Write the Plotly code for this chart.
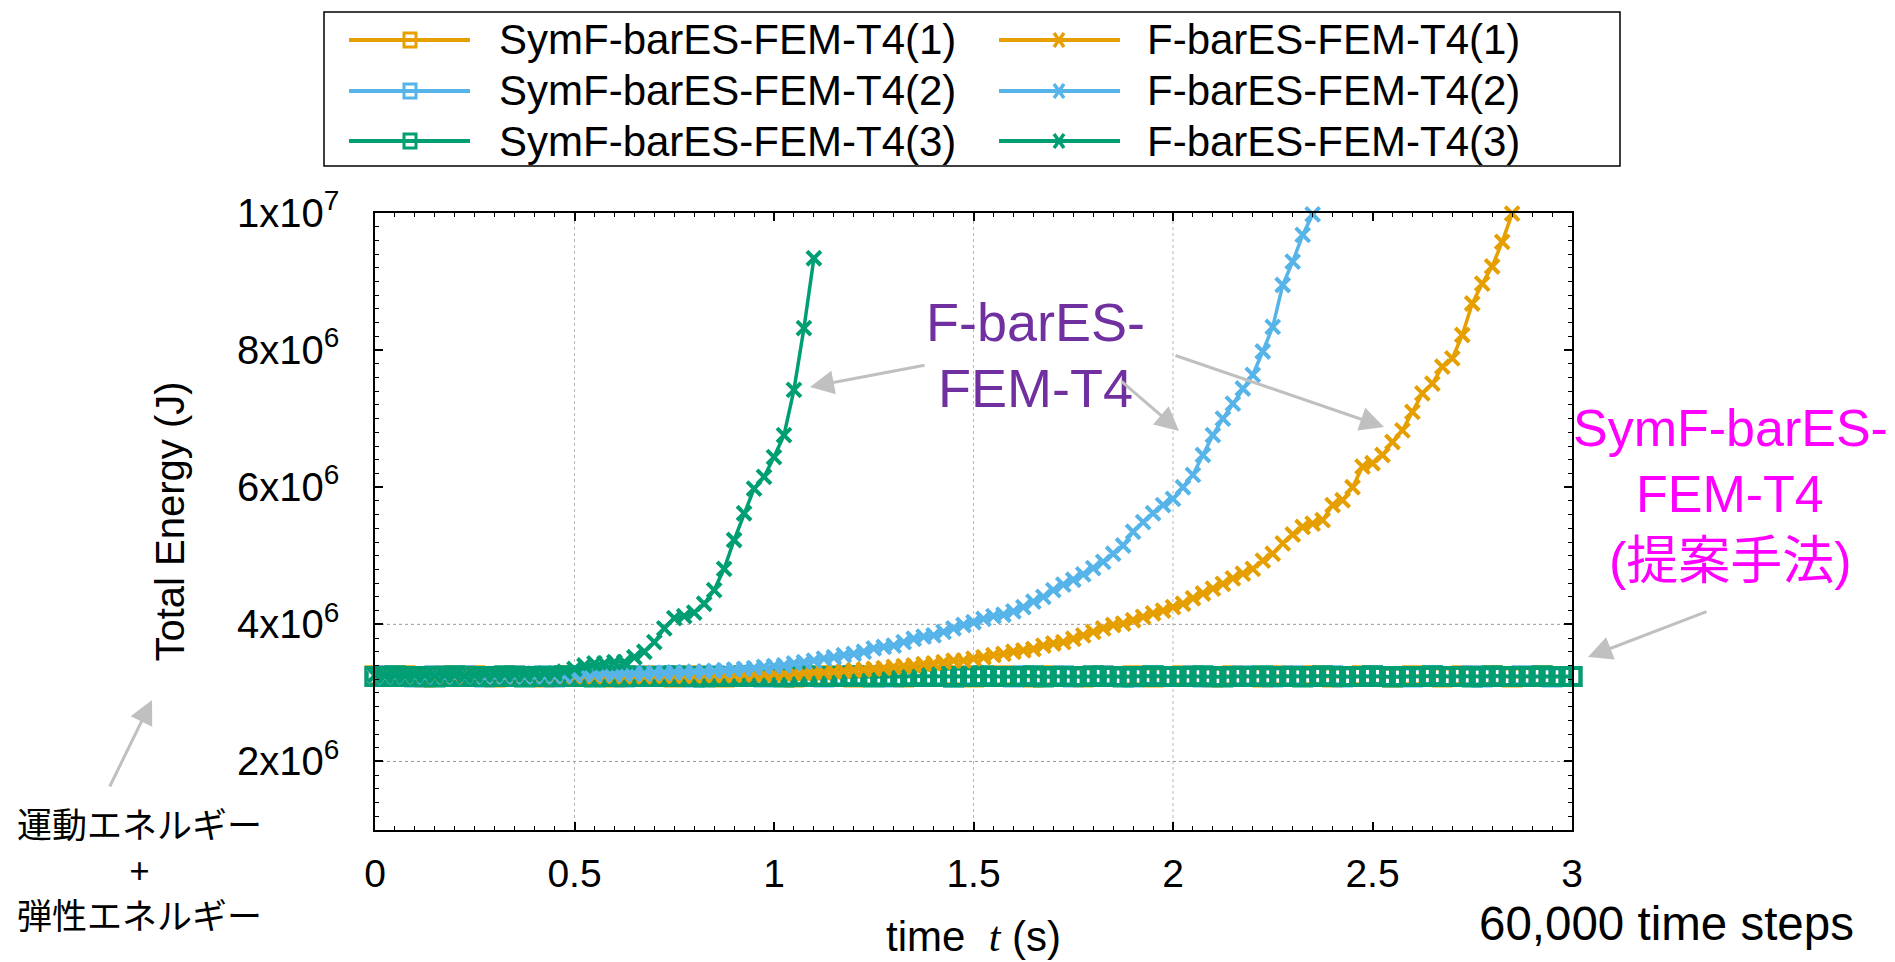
import plotly.graph_objects as go

# ---------------- data (energy in units of 1e6 J) ----------------
T_STEP = 0.025  # output interval (s)

SYM1 = [3.25,3.24,3.24,3.25,3.24,3.23,3.24,3.25,3.24,3.24,
        3.25,3.24,3.23,3.24,3.25,3.24,3.24,3.23,3.24,3.25,
        3.24,3.24,3.25,3.24,3.23,3.24,3.24,3.25,3.24,3.24,
        3.23,3.24,3.25,3.24,3.24,3.23,3.24,3.25,3.24,3.24,
        3.25,3.24,3.23,3.24,3.24,3.25,3.24,3.24,3.23,3.24,
        3.25,3.24,3.24,3.23,3.24,3.25,3.24,3.24,3.25,3.24,
        3.23,3.24,3.24,3.25,3.24,3.24,3.23,3.24,3.25,3.24,
        3.24,3.23,3.24,3.25,3.24,3.24,3.25,3.24,3.23,3.24,
        3.24,3.25,3.24,3.24,3.23,3.24,3.25,3.24,3.24,3.23,
        3.24,3.25,3.24,3.24,3.25,3.24,3.23,3.24,3.24,3.25,
        3.24,3.24,3.23,3.24,3.25,3.24,3.24,3.23,3.24,3.25,
        3.24,3.24,3.25,3.24,3.23,3.24,3.24,3.25,3.24,3.24,
        3.24]
SYM2 = [3.24,3.25,3.24,3.24,3.23,3.24,3.25,3.24,3.24,3.25,
        3.24,3.23,3.24,3.24,3.25,3.24,3.24,3.25,3.23,3.24,
        3.24,3.25,3.24,3.24,3.24,3.23,3.25,3.24,3.24,3.25,
        3.24,3.24,3.23,3.24,3.25,3.24,3.24,3.24,3.25,3.23,
        3.24,3.24,3.25,3.24,3.24,3.23,3.24,3.25,3.24,3.24,
        3.24,3.25,3.23,3.24,3.24,3.24,3.25,3.24,3.23,3.24,
        3.25,3.24,3.24,3.24,3.23,3.25,3.24,3.24,3.24,3.25,
        3.23,3.24,3.24,3.25,3.24,3.24,3.23,3.24,3.25,3.24,
        3.24,3.24,3.25,3.23,3.24,3.24,3.24,3.25,3.24,3.24,
        3.23,3.24,3.25,3.24,3.24,3.24,3.25,3.23,3.24,3.24,
        3.25,3.24,3.24,3.24,3.23,3.24,3.25,3.24,3.24,3.24,
        3.25,3.23,3.24,3.24,3.24,3.25,3.24,3.24,3.23,3.24,
        3.24]
SYM3 = [3.24,3.24,3.25,3.24,3.24,3.24,3.23,3.24,3.25,3.24,
        3.24,3.24,3.24,3.25,3.24,3.23,3.24,3.24,3.24,3.25,
        3.24,3.24,3.23,3.24,3.24,3.25,3.24,3.24,3.24,3.24,
        3.25,3.24,3.24,3.23,3.24,3.24,3.24,3.25,3.24,3.24,
        3.24,3.23,3.24,3.25,3.24,3.24,3.24,3.24,3.25,3.24,
        3.23,3.24,3.24,3.24,3.25,3.24,3.24,3.24,3.23,3.24,
        3.24,3.25,3.24,3.24,3.24,3.24,3.25,3.23,3.24,3.24,
        3.24,3.24,3.25,3.24,3.24,3.23,3.24,3.24,3.25,3.24,
        3.24,3.24,3.24,3.25,3.24,3.23,3.24,3.24,3.24,3.25,
        3.24,3.24,3.24,3.23,3.24,3.25,3.24,3.24,3.24,3.24,
        3.25,3.24,3.23,3.24,3.24,3.24,3.25,3.24,3.24,3.24,
        3.23,3.24,3.25,3.24,3.24,3.24,3.24,3.25,3.24,3.24,
        3.24]
FBAR1 = [3.25,3.24,3.25,3.24,3.25,3.25,3.24,3.25,3.24,3.25,
         3.25,3.24,3.25,3.24,3.25,3.24,3.25,3.25,3.24,3.25,
         3.24,3.25,3.24,3.25,3.25,3.24,3.25,3.24,3.25,3.25,
         3.25,3.25,3.25,3.26,3.26,3.26,3.26,3.27,3.27,3.27,
         3.28,3.28,3.29,3.29,3.30,3.30,3.31,3.32,3.33,3.34,
         3.35,3.36,3.38,3.39,3.40,3.42,3.43,3.45,3.47,3.47,
         3.50,3.52,3.55,3.57,3.60,3.62,3.64,3.69,3.72,3.74,
         3.79,3.84,3.89,3.94,3.99,4.01,4.06,4.11,4.16,4.20,
         4.25,4.30,4.38,4.45,4.52,4.59,4.67,4.74,4.81,4.93,
         5.03,5.18,5.31,5.42,5.47,5.52,5.74,5.81,6.00,6.30,
         6.35,6.47,6.66,6.83,7.10,7.37,7.51,7.76,7.88,8.22,
         8.68,8.97,9.22,9.58,9.99]
FBAR2 = [3.25,3.24,3.25,3.24,3.25,3.24,3.25,3.24,3.25,3.24,
         3.25,3.24,3.25,3.24,3.25,3.24,3.25,3.24,3.25,3.25,
         3.26,3.27,3.27,3.28,3.27,3.28,3.28,3.28,3.29,3.29,
         3.30,3.30,3.31,3.31,3.32,3.33,3.34,3.35,3.36,3.38,
         3.39,3.40,3.43,3.45,3.47,3.50,3.52,3.55,3.57,3.60,
         3.65,3.67,3.69,3.74,3.79,3.82,3.84,3.89,3.94,3.99,
         4.03,4.08,4.12,4.14,4.19,4.25,4.33,4.40,4.50,4.58,
         4.65,4.73,4.82,4.91,5.03,5.15,5.35,5.49,5.62,5.74,
         5.83,6.00,6.18,6.47,6.76,7.00,7.22,7.44,7.64,7.98,
         8.34,8.95,9.29,9.68,9.98]
FBAR3 = [3.26,3.25,3.26,3.25,3.26,3.26,3.25,3.26,3.26,3.25,
         3.26,3.27,3.27,3.27,3.27,3.27,3.28,3.28,3.28,3.31,
         3.35,3.40,3.43,3.43,3.45,3.45,3.52,3.60,3.74,3.94,
         4.09,4.12,4.17,4.30,4.50,4.81,5.23,5.62,5.98,6.15,
         6.44,6.76,7.42,8.32,9.34]

NAMES_SYM = ["SymF-barES-FEM-T4(1)", "SymF-barES-FEM-T4(2)", "SymF-barES-FEM-T4(3)"]
NAMES_F = ["F-barES-FEM-T4(1)", "F-barES-FEM-T4(2)", "F-barES-FEM-T4(3)"]
COLORS = ["#E69F00", "#56B4E9", "#009E73"]

X_TICKS = [0, 0.5, 1, 1.5, 2, 2.5, 3]
Y_TICKS = [2, 4, 6, 8, 10]
Y_TICKTEXT = ["2x10<sup>6</sup>", "4x10<sup>6</sup>", "6x10<sup>6</sup>",
              "8x10<sup>6</sup>", "1x10<sup>7</sup>"]
VGRID = [0.5, 1.5, 2.0]
HGRID = [2, 4]

# ---------------- layout geometry (pixels) ----------------
W, H = 1895, 962
PL, PR, PT, PB = 375, 1572, 213, 830


def px(x):
    return (x - PL) / (PR - PL)


def py(y):
    return (PB - y) / (PB - PT)


def times(vals):
    return [round(i * T_STEP, 4) for i in range(len(vals))]


FONT = "Liberation Sans, Arial, Noto Sans CJK JP, sans-serif"


def label(text, x, y, size, color, family=FONT, xanchor="center"):
    return dict(text=text, x=px(x), y=py(y), xref="paper", yref="paper",
                xanchor=xanchor, yanchor="middle", showarrow=False, align="center",
                font=dict(size=size, color=color, family=family))


fig = go.Figure()
for name, vals, col in zip(NAMES_SYM, [SYM1, SYM2, SYM3], COLORS):
    fig.add_trace(go.Scatter(
        x=times(vals), y=vals, name=name, mode="lines+markers",
        line=dict(color=col, width=3.5),
        marker=dict(symbol="square-open", size=17, color=col,
                    line=dict(color=col, width=4)),
        cliponaxis=False, showlegend=False))
for name, vals, col in zip(NAMES_F, [FBAR1, FBAR2, FBAR3], COLORS):
    fig.add_trace(go.Scatter(
        x=times(vals), y=vals, name=name, mode="lines+markers",
        line=dict(color=col, width=3.5),
        marker=dict(symbol="x-thin", size=14, color=col,
                    line=dict(color=col, width=4)),
        cliponaxis=False, showlegend=False))

shapes = []
annotations = []

# dotted grid lines
for gx in VGRID:
    shapes.append(dict(type="line", xref="x", yref="paper", x0=gx, x1=gx, y0=0, y1=1,
                       line=dict(color="#b8b8b8", width=1, dash="dot"), layer="below"))
for gy in HGRID:
    shapes.append(dict(type="line", xref="paper", yref="y", x0=0, x1=1, y0=gy, y1=gy,
                       line=dict(color="#9a9a9a", width=1, dash="dot"), layer="below"))

# ---------------- legend box (gnuplot-style key) ----------------
shapes.append(dict(type="rect", xref="paper", yref="paper",
                   x0=px(324), x1=px(1620), y0=py(12), y1=py(166),
                   line=dict(color="black", width=1.5), fillcolor="white"))
ROW_Y = [40, 91, 141]
for r in range(3):
    yy = ROW_Y[r]
    col = COLORS[r]
    # column 1: SymF (open square)
    shapes.append(dict(type="line", xref="paper", yref="paper",
                       x0=px(349), x1=px(470), y0=py(yy), y1=py(yy),
                       line=dict(color=col, width=4)))
    shapes.append(dict(type="rect", xref="paper", yref="paper",
                       x0=px(404), x1=px(416), y0=py(yy - 7), y1=py(yy + 7),
                       line=dict(color=col, width=3)))
    annotations.append(label(NAMES_SYM[r], 497, yy, 42, "black", xanchor="left"))
    # column 2: F-bar (cross)
    shapes.append(dict(type="line", xref="paper", yref="paper",
                       x0=px(999), x1=px(1120), y0=py(yy), y1=py(yy),
                       line=dict(color=col, width=4)))
    cx = 1059
    shapes.append(dict(type="path", xref="paper", yref="paper",
                       path=(f"M{px(cx-5)},{py(yy-7)} L{px(cx+5)},{py(yy+7)} "
                             f"M{px(cx-5)},{py(yy+7)} L{px(cx+5)},{py(yy-7)}"),
                       line=dict(color=col, width=3.5)))
    annotations.append(label(NAMES_F[r], 1145, yy, 42, "black", xanchor="left"))

# ---------------- callout texts ----------------
PURPLE = "#7030A0"
MAGENTA = "#FF00FF"
JP = "Noto Sans CJK JP"
annotations += [
    label("F-barES-", 1035, 322, 54, PURPLE),
    label("FEM-T4", 1035, 388, 54, PURPLE),
    label("SymF-barES-", 1730, 428, 52, MAGENTA),
    label("FEM-T4", 1730, 494, 52, MAGENTA),
    label("(提案手法)", 1730, 561, 52, MAGENTA),
    label("運動エネルギー<br>+<br>弾性エネルギー", 139, 868, 35, "black", family=JP),
    label("60,000 time steps", 1666, 923, 47.5, "black"),
]

# arrows: (tip, tail)
ARROWS = [((810, 387), (926, 365)),
          ((1179, 431), (1120, 380)),
          ((1384, 427), (1174, 355)),
          ((1588, 657), (1708, 611)),
          ((152, 700), (109, 788))]
for (tx, ty), (sx, sy) in ARROWS:
    annotations.append(dict(text="", x=px(tx), y=py(ty), xref="paper", yref="paper",
                            ax=sx - tx, ay=sy - ty, showarrow=True,
                            arrowhead=2, arrowsize=1.6, arrowwidth=3,
                            arrowcolor="#C0C0C0", standoff=0, startstandoff=0))

axis_common = dict(showline=True, linecolor="black", linewidth=1.5, mirror="allticks",
                   ticks="inside", ticklen=8, tickwidth=1.5, tickcolor="black",
                   showgrid=False, zeroline=False, automargin=False)

fig.update_layout(
    width=W, height=H,
    margin=dict(l=PL, r=W - PR, t=PT, b=H - PB),
    paper_bgcolor="white", plot_bgcolor="white",
    font=dict(family=FONT, color="black"),
    showlegend=False,
    xaxis=dict(range=[0, 3], tickmode="array", tickvals=X_TICKS,
               minor=dict(ticks="inside", ticklen=4, tickwidth=1, tickcolor="black",
                          tickmode="linear", tick0=0, dtick=0.05, showgrid=False),
               ticklabelstandoff=8,
               tickfont=dict(size=39, color="black", family=FONT),
               title=dict(text="time&nbsp; <span style=\"font-family:'Liberation Serif', serif\"><i>t</i></span> (s)",
                          font=dict(size=42, color="black", family=FONT), standoff=28),
               **axis_common),
    yaxis=dict(range=[1, 10], tickmode="array", tickvals=Y_TICKS, ticktext=Y_TICKTEXT,
               minor=dict(ticks="inside", ticklen=4, tickwidth=1, tickcolor="black",
                          tickmode="linear", tick0=0, dtick=0.2, showgrid=False),
               ticklabelstandoff=26,
               tickfont=dict(size=40, color="black", family=FONT),
               title=dict(text="Total Energy (J)",
                          font=dict(size=40, color="black", family=FONT), standoff=40),
               **axis_common),
    shapes=shapes,
    annotations=annotations,
)

fig.write_html("out.html")
